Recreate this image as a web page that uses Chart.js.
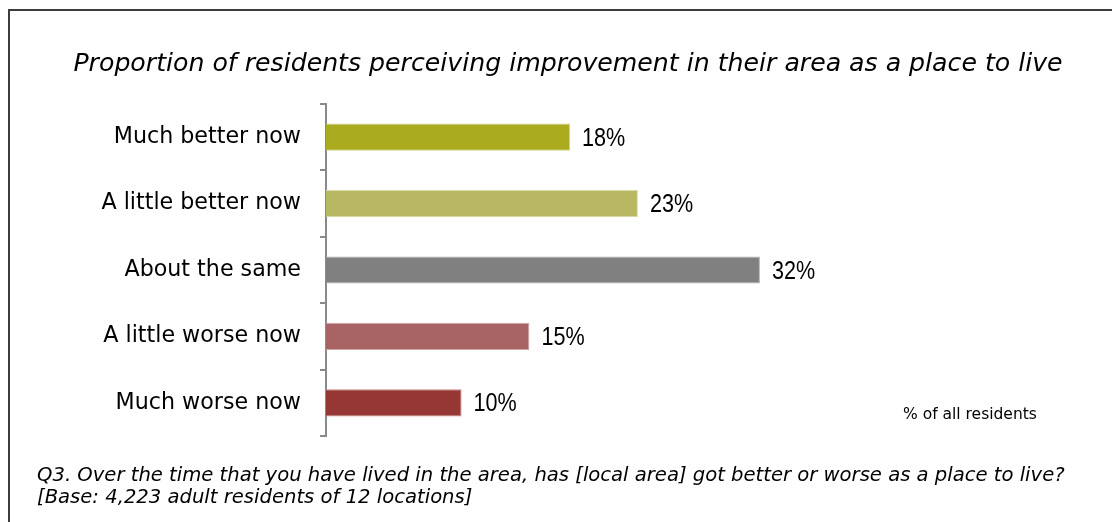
<!DOCTYPE html>
<html>
<head>
<meta charset="utf-8">
<script src="https://cdn.jsdelivr.net/npm/chart.js@4.4.1/dist/chart.umd.min.js"></script>
<style>
  html, body { margin: 0; padding: 0; background: #ffffff; }
  #wrap { position: relative; width: 1112px; height: 522px; }
</style>
</head>
<body>
<div id="wrap"><canvas id="chart"></canvas></div>
<script>
// Survey answers and their share of residents (%)
const categories = ["Much better now", "A little better now", "About the same", "A little worse now", "Much worse now"];
const shares = [18, 23, 32, 15, 10];
const barColors = ["#ABAB1F", "#B8B862", "#808080", "#A86464", "#953735"];
const barEdges = ["#D2D28A", "#DADAA8", "#B0B0B0", "#D4A4A4", "#C88A88"];

const titleText = "Proportion of residents perceiving improvement in their area as a place to live";
const noteLines = [
  "Q3. Over the time that you have lived in the area, has [local area] got better or worse as a place to live?",
  "[Base: 4,223 adult residents of 12 locations]"
];
const unitText = "% of all residents";

// Frame, heading, notes and value labels drawn on the canvas
const decorations = {
  id: "decorations",
  beforeDraw(chart) {
    const ctx = chart.ctx;
    ctx.save();
    ctx.fillStyle = "#ffffff";
    ctx.fillRect(0, 0, chart.width, chart.height);
    ctx.strokeStyle = "#3c3c3c";
    ctx.lineWidth = 2;
    ctx.beginPath();
    ctx.moveTo(9, chart.height);
    ctx.lineTo(9, 10);
    ctx.lineTo(chart.width, 10);
    ctx.stroke();
    ctx.restore();
  },
  afterDraw(chart) {
    const ctx = chart.ctx;
    ctx.save();
    ctx.fillStyle = "#000000";
    ctx.textBaseline = "alphabetic";

    ctx.font = "italic 25.2px 'DejaVu Sans', sans-serif";
    ctx.textAlign = "center";
    ctx.fillText(titleText, 568, 71);

    ctx.font = "italic 19.6px 'DejaVu Sans', sans-serif";
    ctx.textAlign = "left";
    ctx.fillText(noteLines[0], 37, 481);
    ctx.fillText(noteLines[1], 37, 503);

    ctx.font = "15.5px 'DejaVu Sans', sans-serif";
    ctx.fillText(unitText, 903, 419);

    // value labels beside each bar, set in a narrow face
    ctx.font = "26px 'Liberation Sans', sans-serif";
    ctx.textBaseline = "middle";
    const meta = chart.getDatasetMeta(0);
    meta.data.forEach((bar, i) => {
      ctx.save();
      ctx.translate(bar.x + 12, bar.y + 1.5);
      ctx.scale(0.83, 1);
      ctx.fillText(shares[i] + "%", 0, 0);
      ctx.restore();
    });
    ctx.restore();
  }
};

new Chart(document.getElementById("chart"), {
  type: "bar",
  data: {
    labels: categories,
    datasets: [{
      data: shares,
      backgroundColor: barColors,
      borderColor: barEdges,
      borderWidth: { top: 1, right: 1, bottom: 1, left: 0 },
      borderSkipped: "left",
      categoryPercentage: 1,
      barPercentage: 0.41
    }]
  },
  options: {
    indexAxis: "y",
    responsive: true,
    maintainAspectRatio: false,
    animation: false,
    layout: { padding: { top: 104, bottom: 86, left: 0, right: 108 } },
    plugins: {
      legend: { display: false },
      title: { display: false },
      tooltip: { enabled: false }
    },
    scales: {
      x: { display: false, min: 0, max: 50 },
      y: {
        type: "category",
        offset: true,
        afterFit(scale) { scale.width = 326; },
        grid: {
          offset: true,
          drawOnChartArea: false,
          drawTicks: true,
          tickLength: 6,
          color: "#8a8a8a",
          lineWidth: 2
        },
        border: { display: true, color: "#8a8a8a", width: 2 },
        ticks: {
          padding: 19,
          color: "#000000",
          font: { family: "'DejaVu Sans', sans-serif", size: 22.2 }
        }
      }
    }
  },
  plugins: [decorations]
});
</script>
</body>
</html>
